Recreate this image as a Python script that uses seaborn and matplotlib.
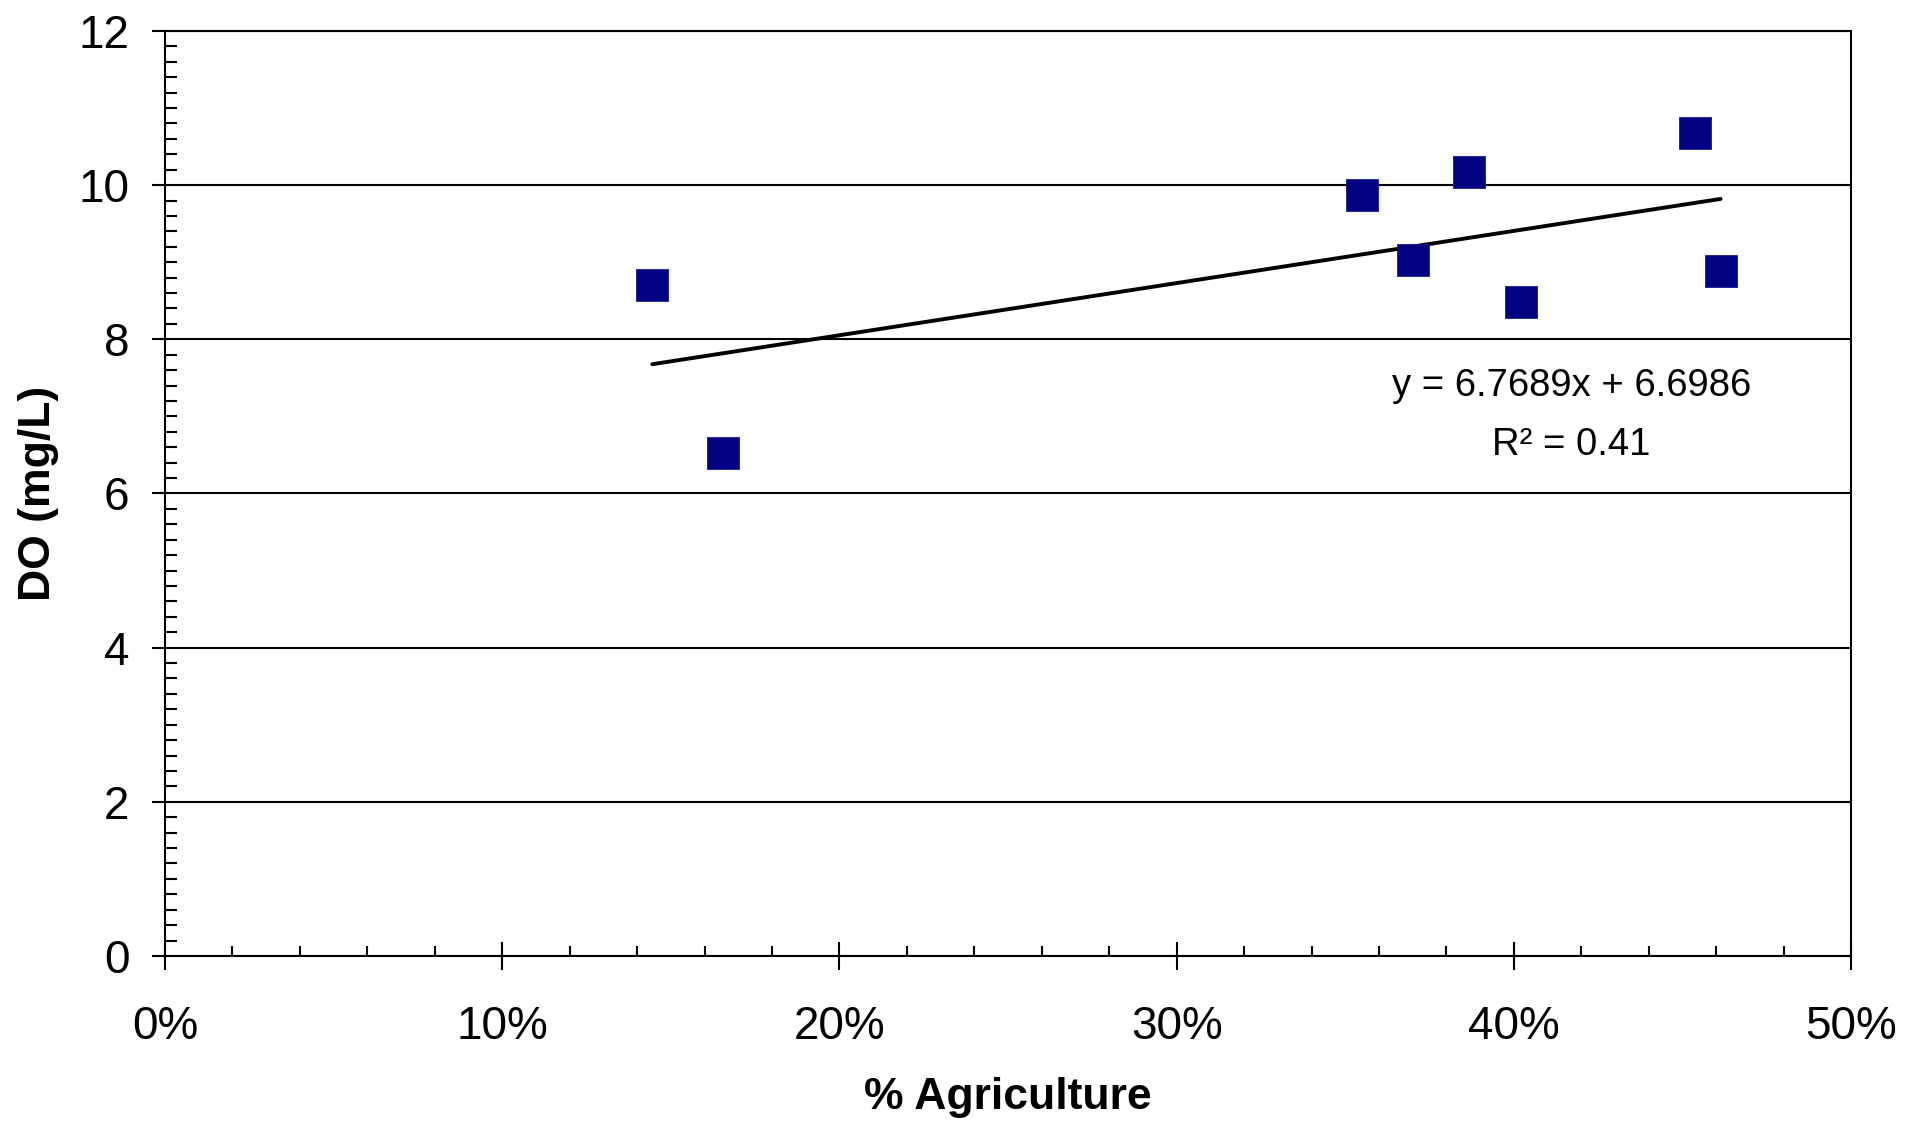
import numpy as np
import pandas as pd
import matplotlib
matplotlib.use("Agg")
import matplotlib.pyplot as plt
import seaborn as sns
from matplotlib.ticker import MultipleLocator, PercentFormatter

# valori
agri_pct = [14.45, 16.55, 35.5, 37.0, 38.66, 40.2, 45.37, 46.13]
do_mgl = [8.70, 6.52, 9.87, 9.03, 10.17, 8.49, 10.68, 8.89]

# retta di tendenza riportata sul grafico
slope = 6.7689
intercept = 6.6986
r2 = 0.41

df = pd.DataFrame({"agri": np.array(agri_pct) / 100, "do": do_mgl})

trend = pd.DataFrame({"agri": [df["agri"].min(), df["agri"].max()]})
trend["do"] = slope * trend["agri"] + intercept

sns.set_style("white")
plt.rcParams["font.family"] = ["Liberation Sans", "DejaVu Sans"]
plt.rcParams["text.color"] = "black"
plt.rcParams["axes.labelcolor"] = "black"
plt.rcParams["xtick.color"] = "black"
plt.rcParams["ytick.color"] = "black"

fig = plt.figure(figsize=(19.19, 11.26), dpi=100)
ax = fig.add_axes([0.086, 0.151, 0.8786, 0.8215])

sns.lineplot(data=trend, x="agri", y="do", color="black", linewidth=2.8, ax=ax, zorder=3)
sns.scatterplot(data=df, x="agri", y="do", marker="s", color="#000080", s=560,
                edgecolor="#1a1a90", linewidth=0.6, ax=ax, zorder=4)

ax.set_xlim(0, 0.5)
ax.set_ylim(0, 12)
ax.xaxis.set_major_locator(MultipleLocator(0.1))
ax.xaxis.set_minor_locator(MultipleLocator(0.02))
ax.xaxis.set_major_formatter(PercentFormatter(xmax=1, decimals=0))
ax.yaxis.set_major_locator(MultipleLocator(2))
ax.yaxis.set_minor_locator(MultipleLocator(0.2))

ax.grid(axis="y", which="major", color="black", linewidth=1.5)
ax.set_axisbelow(True)
for s in ax.spines.values():
    s.set_color("black")
    s.set_linewidth(1.5)

ax.tick_params(axis="x", which="major", direction="inout", length=20, width=1.5,
               labelsize=33, pad=25, bottom=True, colors="black")
ax.tick_params(axis="x", which="minor", direction="in", length=7, width=1.5, bottom=True, colors="black")
ax.tick_params(axis="y", which="major", direction="out", length=9.5, width=1.5,
               labelsize=33, pad=16, left=True, colors="black")
ax.tick_params(axis="y", which="minor", direction="in", length=8.5, width=1.5, left=True, colors="black")

ax.set_xlabel("% Agriculture", fontsize=32, fontweight="bold", color="black")
ax.set_ylabel("DO (mg/L)", fontsize=32, fontweight="bold", color="black")
ax.xaxis.set_label_coords(0.5, -0.131)
ax.yaxis.set_label_coords(-0.063, 0.5)

ax.text(0.417, 7.40, f"y = {slope}x + {intercept}", fontsize=27.5, ha="center", va="center", color="black")
ax.text(0.417, 6.63, f"R² = {r2}", fontsize=27.5, ha="center", va="center", color="black")

fig.savefig("out.png", dpi=100, facecolor="white")
